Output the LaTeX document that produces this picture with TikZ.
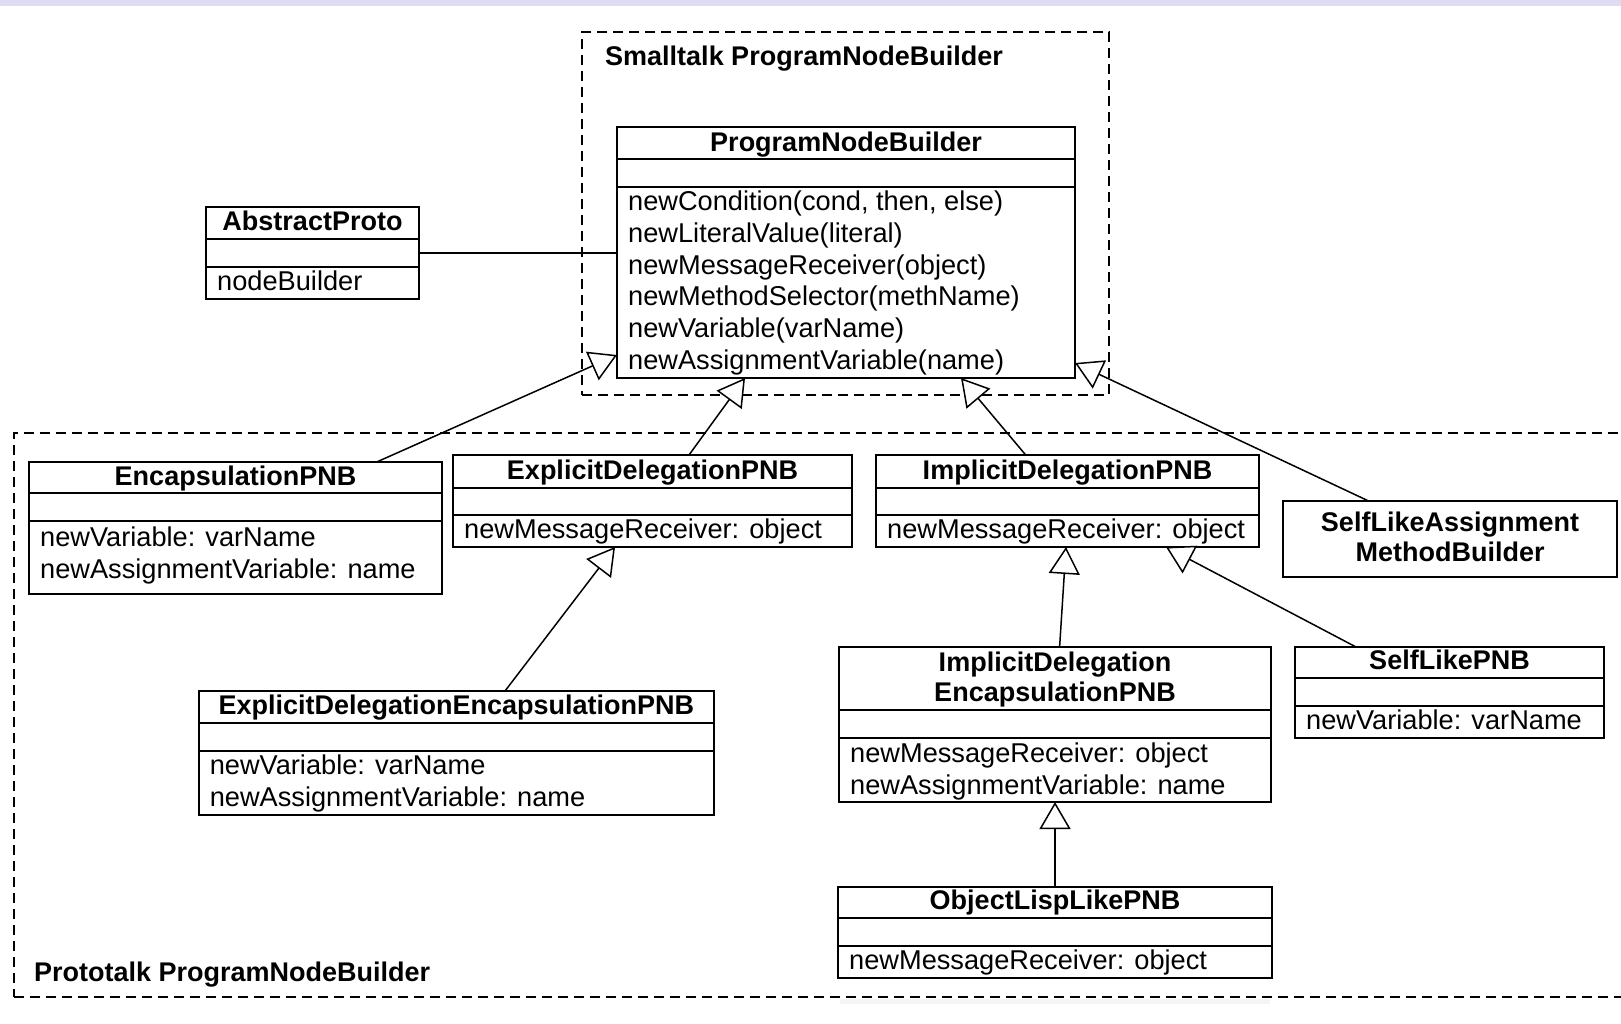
\documentclass[tikz,border=0pt]{standalone}
\usepackage{fontspec}
\setmainfont{Liberation Sans}
\usetikzlibrary{arrows.meta}
\definecolor{bandcol}{RGB}{222,220,244}
\newcommand{\myclassbox}[7]{%
  \node[classbox, minimum width={(#4-#2)*1pt}, minimum height={(#5-#3)*1pt}] (#1) at ({(#2+#4)/2},{(#3+#5)/2}) {};
  \draw[sepline] (#2,#6) -- (#4,#6) (#2,#7) -- (#4,#7);
}
\begin{document}
\begin{tikzpicture}[x=1pt,y=-1pt,
  classbox/.style={draw, line width=1.8pt, inner sep=0pt, outer sep=0pt, rectangle},
  sepline/.style={line width=1.8pt},
  frame/.style={draw, dash pattern=on 10pt off 6pt, line width=1.5pt, inner sep=0pt, outer sep=0pt, rectangle},
  ttl/.style={font=\bfseries\fontsize{27}{32}\selectfont, inner sep=0pt},
  mth/.style={font=\fontsize{27.2}{32}\selectfont, inner sep=0pt, anchor=base west},
  inh/.style={line width=1.5pt, -{Triangle[length=27pt, width=31pt, fill=white]}},
  assoc/.style={line width=1.5pt}]
\useasboundingbox (0,0) rectangle (1621,1023);
\fill[bandcol] (0,0) rectangle (1621,5.7);
\fill[black!4] (840,999) rectangle (1270,1004);

% package frames
\node[frame, minimum width=527pt, minimum height=363pt] (smalltalk) at (845.5,213.5) {};
\node[frame, minimum width=1616pt, minimum height=564pt] (prototalk) at (822,715) {};
\node[ttl, anchor=base west] (smalltalkL) at (605,65) {Smalltalk ProgramNodeBuilder};
\node[ttl, anchor=base west] (prototalkL) at (34,981) {Prototalk ProgramNodeBuilder};

% ProgramNodeBuilder
\myclassbox{pnb}{617}{127}{1075}{378}{159}{187}
\node[ttl, anchor=base] (pnbT) at (846,151) {ProgramNodeBuilder};
\node[mth] (pnbM1) at (628,210.5) {newCondition(cond, then, else)};
\node[mth] (pnbM2) at (628,242.3) {newLiteralValue(literal)};
\node[mth] (pnbM3) at (628,274.1) {newMessageReceiver(object)};
\node[mth] (pnbM4) at (628,305.9) {newMethodSelector(methName)};
\node[mth] (pnbM5) at (628,337.7) {newVariable(varName)};
\node[mth] (pnbM6) at (628,369.5) {newAssignmentVariable(name)};

% AbstractProto
\myclassbox{abs}{206}{207}{419}{299}{239}{267}
\node[ttl, anchor=base] (absT) at (312.5,230.5) {AbstractProto};
\node[mth] (absM1) at (217,290) {nodeBuilder};

% EncapsulationPNB
\myclassbox{encap}{29}{462}{442}{594}{493}{521}
\node[ttl, anchor=base] (encapT) at (235.5,485) {EncapsulationPNB};
\node[mth] (encapM1) at (40,546.5) {newVariable: varName};
\node[mth] (encapM2) at (40,578.3) {newAssignmentVariable: name};

% ExplicitDelegationPNB
\myclassbox{expl}{453}{455}{852}{547}{488}{515}
\node[ttl, anchor=base] (explT) at (652.5,479.5) {ExplicitDelegationPNB};
\node[mth] (explM1) at (464,538) {newMessageReceiver: object};

% ImplicitDelegationPNB
\myclassbox{impl}{876}{455}{1259}{547}{488}{515}
\node[ttl, anchor=base] (implT) at (1067.5,479.5) {ImplicitDelegationPNB};
\node[mth] (implM1) at (887,538) {newMessageReceiver: object};

% SelfLikeAssignmentMethodBuilder
\node[classbox, minimum width=334pt, minimum height=76pt] (sla) at (1450,539) {};
\node[ttl, anchor=base] (slaT1) at (1450,531.7) {SelfLikeAssignment};
\node[ttl, anchor=base] (slaT2) at (1450,561.7) {MethodBuilder};

% ExplicitDelegationEncapsulationPNB
\myclassbox{explenc}{198.6}{691}{714}{815}{722.7}{750.7}
\node[ttl, anchor=base] (explencT) at (456.3,714) {ExplicitDelegationEncapsulationPNB};
\node[mth] (explencM1) at (209.6,774.3) {newVariable: varName};
\node[mth] (explencM2) at (209.6,806) {newAssignmentVariable: name};

% ImplicitDelegationEncapsulationPNB
\myclassbox{implenc}{839}{647}{1271}{802}{710}{738}
\node[ttl, anchor=base] (implencT1) at (1055,671.7) {ImplicitDelegation};
\node[ttl, anchor=base] (implencT2) at (1055,701.7) {EncapsulationPNB};
\node[mth] (implencM1) at (850,762.4) {newMessageReceiver: object};
\node[mth] (implencM2) at (850,794) {newAssignmentVariable: name};

% SelfLikePNB
\myclassbox{selflike}{1295}{647}{1604}{738}{678}{706}
\node[ttl, anchor=base] (selflikeT) at (1449.5,669.5) {SelfLikePNB};
\node[mth] (selflikeM1) at (1306,729) {newVariable: varName};

% ObjectLispLikePNB
\myclassbox{objlisp}{838}{887}{1272}{978}{918}{946}
\node[ttl, anchor=base] (objlispT) at (1055,909.5) {ObjectLispLikePNB};
\node[mth] (objlispM1) at (849,969) {newMessageReceiver: object};

% connectors
\draw[assoc] (abs.east |- 0,253) -- (pnb.west |- 0,253);
\draw[inh] ([xshift=347.7pt]encap.north west) -- ([yshift=-228pt]pnb.north west);
\draw[inh] ([xshift=236pt]expl.north west) -- ([xshift=128pt]pnb.south west);
\draw[inh] ([xshift=149.7pt]impl.north west) -- ([xshift=344pt]pnb.south west);
\draw[inh] ([xshift=85.6pt]sla.north west) -- ([yshift=-236pt]pnb.north east);
\draw[inh] ([xshift=306.4pt]explenc.north west) -- ([xshift=162pt]expl.south west);
\draw[inh] ([xshift=220.6pt]implenc.north west) -- ([xshift=190pt]impl.south west);
\draw[inh] ([xshift=61pt]selflike.north west) -- ([xshift=290pt]impl.south west);
\draw[inh] (objlisp.north) -- (implenc.south);
\end{tikzpicture}
\end{document}
